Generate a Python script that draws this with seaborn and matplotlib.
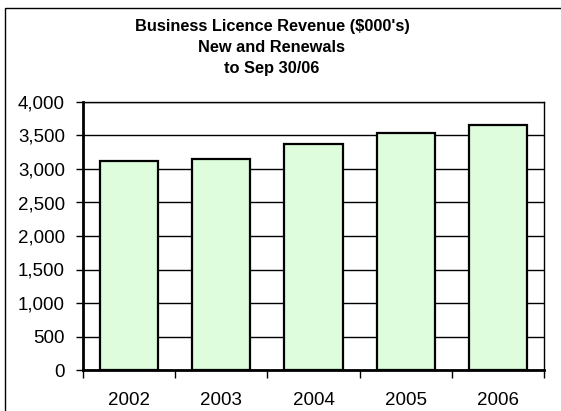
import matplotlib
matplotlib.use("Agg")
import matplotlib.pyplot as plt
import matplotlib.patches as mpatches
from matplotlib.ticker import FuncFormatter, MultipleLocator
import seaborn as sns
import pandas as pd

years = ["2002", "2003", "2004", "2005", "2006"]
revenue = [3125, 3150, 3370, 3530, 3660]
title_lines = ["Business Licence Revenue ($000's)", "New and Renewals", "to Sep 30/06"]

sns.set_theme(style="white")
plt.rcParams["font.family"] = ["Liberation Sans", "DejaVu Sans"]

W, H = 561, 411
fig = plt.figure(figsize=(W / 100, H / 100), dpi=100)
fig.patch.set_facecolor("white")

# outer chart frame (left and top edges visible)
frame = mpatches.Rectangle((5 / W, -0.05), 1.2, (H - 8) / H + 0.05,
                           transform=fig.transFigure, fill=False,
                           edgecolor="black", linewidth=1.0, clip_on=False)
fig.patches.append(frame)

left, right, top, bottom = 83, 544, 102, 370
ax = fig.add_axes([left / W, (H - bottom) / H, (right - left) / W, (bottom - top) / H])

df = pd.DataFrame({"year": years, "revenue": revenue})
sns.barplot(data=df, x="year", y="revenue", ax=ax, color="#DDFDDD",
            edgecolor="black", linewidth=1.6, width=0.63, saturation=1)

ax.set_ylim(0, 4000)
ax.set_xlim(-0.5, len(years) - 0.5)
ax.yaxis.set_major_locator(MultipleLocator(500))
ax.yaxis.set_major_formatter(FuncFormatter(lambda v, p: f"{int(v):,}"))
ax.set_axisbelow(True)
ax.grid(axis="y", color="black", linewidth=1.0)
ax.grid(axis="x", visible=False)

ax.set_xlabel("")
ax.set_ylabel("")
for side in ["left", "bottom"]:
    ax.spines[side].set_linewidth(2.0)
    ax.spines[side].set_color("black")
for side in ["top", "right"]:
    ax.spines[side].set_linewidth(1.0)
    ax.spines[side].set_color("black")

# x ticks sit at category boundaries, labels at category centres
ax.set_xticks([i - 0.5 for i in range(len(years) + 1)], minor=False)
ax.set_xticklabels([""] * (len(years) + 1))
ax.set_xticks(range(len(years)), minor=True)
ax.set_xticklabels(years, minor=True)
ax.tick_params(axis="x", which="major", direction="out", length=6, width=1, color="black", bottom=True)
ax.tick_params(axis="x", which="minor", length=0, labelsize=13.5, pad=16, colors="black")
ax.tick_params(axis="y", direction="out", length=5, width=1, color="black", left=True,
               labelsize=13.5, pad=8, labelcolor="black")

ys = [26, 47, 68]
for line, y in zip(title_lines, ys):
    fig.text(272 / W, 1 - y / H, line, ha="center", va="center",
             fontsize=11.8, fontweight="bold", color="black")

fig.savefig("out.png", dpi=100, facecolor="white")
